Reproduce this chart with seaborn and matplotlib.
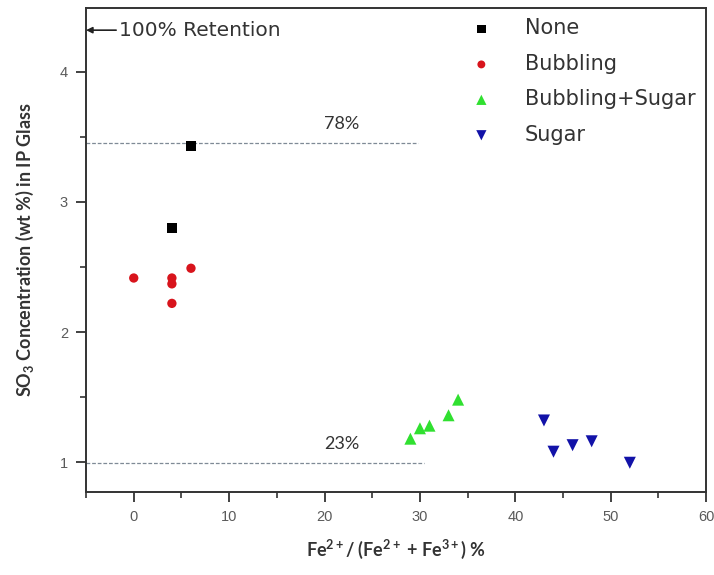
import numpy as np
import pandas as pd
import matplotlib
matplotlib.use("Agg")
import matplotlib.pyplot as plt
from matplotlib.ticker import MultipleLocator
import seaborn as sns

# Fe2+ fraction (%) and SO3 retained in the glass (wt %) for each treatment
none_x = [6, 4]
none_y = [3.43, 2.80]
bubbling_x = [0, 4, 4, 6, 4]
bubbling_y = [2.415, 2.415, 2.37, 2.49, 2.22]
bub_sugar_x = [29, 30, 31, 33, 34]
bub_sugar_y = [1.18, 1.26, 1.28, 1.36, 1.48]
sugar_x = [43, 44, 46, 48, 52]
sugar_y = [1.32, 1.08, 1.13, 1.16, 0.995]

groups = ["None", "Bubbling", "Bubbling+Sugar", "Sugar"]
colors = ["#000000", "#d8141c", "#30e030", "#1212a8"]
markers = ["s", "o", "^", "v"]
sizes = [55, 45, 75, 75]

# retention reference levels (wt % SO3)
ret_levels = [3.455, 0.995]
ret_labels = ["78%", "23%"]
ret_ends = [29.8, 30.4]
full_retention = 4.32

frames = []
for g, xs, ys in zip(groups,
                     [none_x, bubbling_x, bub_sugar_x, sugar_x],
                     [none_y, bubbling_y, bub_sugar_y, sugar_y]):
    frames.append(pd.DataFrame({"fe": xs, "so3": ys, "group": g}))
df = pd.concat(frames, ignore_index=True)

sns.set_style("ticks")
plt.rcParams["font.family"] = ["Liberation Sans", "DejaVu Sans"]
plt.rcParams["mathtext.fontset"] = "custom"
plt.rcParams["mathtext.rm"] = "Lato:bold"
plt.rcParams["mathtext.it"] = "Lato:bold:italic"
plt.rcParams["mathtext.bf"] = "Lato:bold"
plt.rcParams["mathtext.default"] = "rm"

fig = plt.figure(figsize=(7.14, 5.75), dpi=100)
ax = fig.add_axes([0.1205, 0.1443, 0.8685, 0.8417])

for g, c, m, s in zip(groups, colors, markers, sizes):
    sub = df[df["group"] == g]
    sns.scatterplot(data=sub, x="fe", y="so3", color=c, marker=m, s=s,
                    edgecolor="none", label=g, ax=ax, zorder=3)

ax.set_xlim(-5, 60)
ax.set_ylim(0.77, 4.49)
ax.xaxis.set_major_locator(MultipleLocator(10))
ax.xaxis.set_minor_locator(MultipleLocator(5))
ax.yaxis.set_major_locator(MultipleLocator(1))
ax.yaxis.set_minor_locator(MultipleLocator(0.5))
ax.tick_params(axis="both", which="major", direction="out", length=7,
               width=1.3, colors="#333333", labelcolor="#5a5a5a",
               labelsize=10.5, pad=6)
ax.tick_params(axis="both", which="minor", direction="out", length=4,
               width=1.2, colors="#333333")
ax.tick_params(top=False, right=False, which="both")
for sp in ax.spines.values():
    sp.set_visible(True)
    sp.set_color("#333333")
    sp.set_linewidth(1.4)

# dashed retention levels
for lvl, lab, xe in zip(ret_levels, ret_labels, ret_ends):
    ax.plot([-5, xe], [lvl, lvl], ls=(0, (3, 1.5)), lw=0.9,
            color="#7f8a96", zorder=2)
    ax.text(21.8, lvl + 0.085, lab, ha="center", va="bottom",
            fontsize=13, color="#333333", family=["Lato", "DejaVu Sans"])

ax.annotate("100% Retention", xy=(-5, full_retention),
            xytext=(-1.5, full_retention), va="center", ha="left",
            fontsize=14.5, color="#333333", family=["DejaVu Sans"],
            arrowprops=dict(arrowstyle="-|>", color="#222222", lw=1.2,
                            mutation_scale=9, shrinkA=0, shrinkB=0))

ax.set_xlabel("Fe$^{2+}$/ (Fe$^{2+}$ + Fe$^{3+}$) %", fontsize=13,
              fontweight="bold", color="#333333", labelpad=10,
              family=["Lato", "DejaVu Sans"])
ax.set_ylabel("SO$_3$ Concentration (wt %) in IP Glass", fontsize=13,
              fontweight="bold", color="#333333", labelpad=17,
              family=["Lato", "DejaVu Sans"])

leg = ax.legend(loc="upper right", frameon=False,
                prop={"family": "DejaVu Sans", "size": 15},
                labelspacing=0.74, handletextpad=1.1,
                bbox_to_anchor=(1.0, 1.0), borderaxespad=0.1,
                markerscale=0.85)
for t in leg.get_texts():
    t.set_color("#333333")

fig.savefig("out.png", dpi=100)
